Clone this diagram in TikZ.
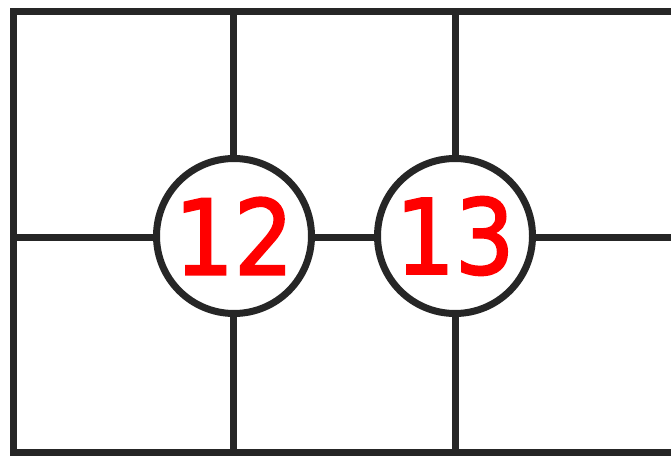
\documentclass[tikz,border=0pt]{standalone}
\usepackage{fontspec}
\newfontfamily\numfont[FakeBold=2]{DejaVu Sans Condensed}
\begin{document}
\begin{tikzpicture}[x=1pt,y=-1pt,
  gridline/.style={line width=7pt,draw=black!85},
  cell/.style={circle,draw=black!85,line width=7pt,fill=white,minimum size=155pt,inner sep=0pt,
     text=red,font=\numfont\fontsize{104}{104}\selectfont}]
\useasboundingbox (0,0) rectangle (671,457);
\coordinate (tl) at (13,12);
\coordinate (tr) at (675,12);
\coordinate (bl) at (13,452);
\coordinate (br) at (675,452);
\coordinate (t1) at (233,12);
\coordinate (b1) at (233,452);
\coordinate (t2) at (455,12);
\coordinate (b2) at (455,452);
\coordinate (ml) at (13,237);
\coordinate (mr) at (675,237);
\draw[gridline] (tr) -- (tl) -- (bl) -- (br) -- cycle;
\draw[gridline] (t1) -- (b1);
\draw[gridline] (t2) -- (b2);
\draw[gridline] (ml) -- (mr);
\node[cell] (n12) at (234,236) {12};
\node[cell] (n13) at (455,236) {13};
\end{tikzpicture}
\end{document}
